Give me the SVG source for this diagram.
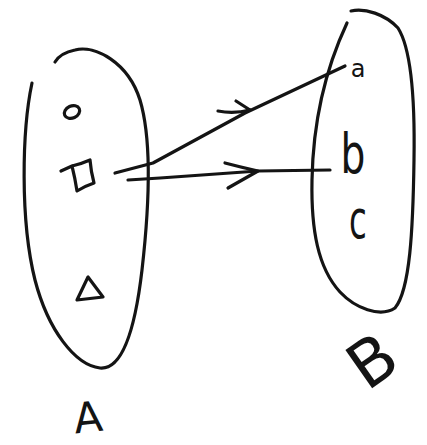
<svg xmlns="http://www.w3.org/2000/svg" width="427" height="445" viewBox="0 0 427 445">
<style>
.ink{fill:none;stroke:#141414;stroke-width:3.2;stroke-linecap:round;stroke-linejoin:round}
.lbl{font-family:"DejaVu Sans","Liberation Sans",sans-serif;fill:#141414}
</style>
<rect width="427" height="445" fill="#ffffff"/>
<g id="setA">
<path class="ink" d="M 32,83 C 22,130 20,220 35,280 C 48,330 75,365 100,368 C 122,370 135,330 142,270 C 150,200 152,140 140,100 C 128,62 95,45 75,50 C 65,52 58,57 55,62"/>
<text class="lbl" x="88" y="432" font-size="42" text-anchor="middle" transform="rotate(-6 88 418)">A</text>
</g>
<g id="circle"><ellipse class="ink" cx="72" cy="112" rx="8" ry="6" transform="rotate(-25 72 112)"/></g>
<g id="square"><path class="ink" d="M 72,166 Q 81,164 90,160 Q 91,172 94,183 Q 85,186 77,191 Q 75,178 72,166 Z M 61,171 L 72,166"/></g>
<g id="triangle"><path class="ink" d="M 88,277 L 77,300 L 103,297 Z"/></g>
<g id="setB">
<path class="ink" d="M 351,11 C 365,8 385,14 398,28 C 412,50 415,100 414,160 C 413,230 410,290 395,308 C 380,318 355,308 340,292 C 318,268 311,230 312,180 C 313,125 325,70 347,23"/>
<text class="lbl" x="373" y="383" font-size="64" text-anchor="middle" transform="rotate(-35 373 362)">B</text>
</g>
<g id="a"><text class="lbl" x="358" y="77" font-size="24" text-anchor="middle">a</text></g>
<g id="b"><text class="lbl" x="0" y="0" font-size="56" text-anchor="middle" transform="translate(353 173) scale(0.7 1)">b</text></g>
<g id="c"><text class="lbl" x="0" y="0" font-size="54" text-anchor="middle" transform="translate(358 238) scale(0.6 1)">c</text></g>
<g id="connectors">
<path class="ink" d="M 115,173 L 153,163 L 245,113 L 345,66"/>
<path class="ink" d="M 218,111 Q 234,114 250,110 M 236,101 L 250,110"/>
<path class="ink" d="M 128,180 L 160,178 L 258,171 L 330,170"/>
<path class="ink" d="M 225,163 Q 240,167 258,171 L 228,188"/>
</g>
</svg>
